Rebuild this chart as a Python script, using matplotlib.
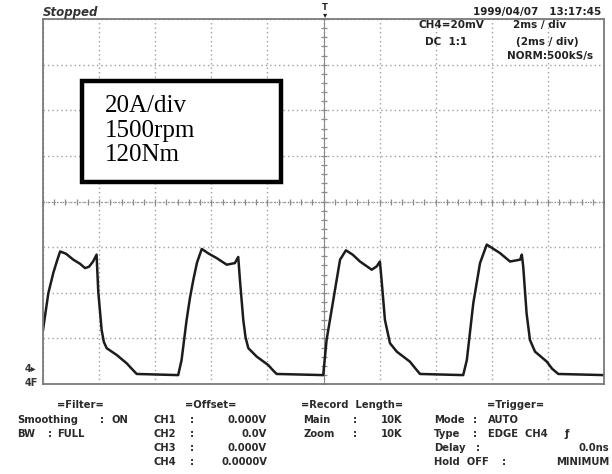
"""Phase current capture, 1500 rpm / 120 Nm."""
import numpy as np
import matplotlib
matplotlib.use('Agg')
from matplotlib import pyplot as plt
from matplotlib import transforms
from matplotlib.patches import Rectangle

# Captured trace: time (ms) and phase current (A)
time_ms = [0.00, 0.19, 0.37, 0.50, 0.61, 0.82, 1.08, 1.32, 1.50, 1.64,
           1.78, 1.91, 1.97, 2.09, 2.17, 2.27, 2.63, 2.98, 3.14, 3.34,
           4.82, 4.94, 5.03, 5.12, 5.24, 5.36, 5.49, 5.66, 5.90, 6.19,
           6.55, 6.84, 6.96, 7.02, 7.14, 7.22, 7.32, 7.62, 8.03, 8.20,
           8.33, 9.99, 10.11, 10.35, 10.59, 10.80, 11.05, 11.30, 11.72, 11.90,
           12.01, 12.07, 12.19, 12.37, 12.61, 13.08, 13.25, 13.44, 14.98, 15.11,
           15.34, 15.58, 15.82, 16.05, 16.29, 16.65, 17.01, 17.07, 17.12, 17.24,
           17.36, 17.54, 17.96, 18.15, 18.37, 20.00]
current_a = [16.7, 32.8, 41.8, 47.0, 51.1, 50.1, 47.5, 45.7, 43.8, 44.4,
             46.6, 49.7, 33.5, 16.7, 11.4, 8.7, 5.7, 2.1, 0.0, -2.6,
             -3.1, 3.5, 12.3, 21.1, 30.8, 38.7, 46.2, 52.2, 50.2, 48.2,
             45.3, 46.0, 48.7, 38.7, 21.1, 13.5, 8.7, 5.0, 1.3, -1.0,
             -2.6, -3.1, 12.3, 29.9, 47.5, 51.6, 49.6, 46.7, 43.1, 44.6,
             46.7, 38.7, 21.1, 10.9, 7.2, 2.8, 0.2, -2.6, -3.1, 3.5,
             28.4, 46.0, 54.1, 52.3, 50.4, 46.7, 47.5, 49.7, 44.5, 24.0,
             12.3, 7.2, 2.8, -0.3, -2.6, -3.1]

# Screen: 10 x 2 ms horizontally, 8 x 20 A vertically
t_range = (0.0, 20.0)
i_range = (-7.0, 153.0)

box_lines = ['20A/div', '1500rpm', '120Nm']
setup_left = ['CH4=20mV', 'DC  1:1']
setup_right = ['2ms / div', '(2ms / div)']
sample_rate = 'NORM:500kS/s'
timestamp = '1999/04/07   13:17:45'

fig = plt.figure(figsize=(6.12, 4.74), dpi=100)
ax = fig.add_axes([43 / 612, 1 - 384 / 474, 561 / 612, 365 / 474])
ax.set_xlim(*t_range)
ax.set_ylim(*i_range)

# graticule
ax.set_xticks(np.linspace(*t_range, 11))
ax.set_yticks(np.linspace(*i_range, 9))
ax.tick_params(length=0, labelbottom=False, labelleft=False)
ax.grid(True, color='#a0a0a0', linestyle=(0, (1, 2.2)), linewidth=1.0)
for s in ax.spines.values():
    s.set_color('#7a7a7a')
    s.set_linewidth(1.3)

t_mid = sum(t_range) / 2
i_mid = sum(i_range) / 2
ax.axvline(t_mid, color='#8a8a8a', lw=0.8)
ax.axhline(i_mid, color='#8a8a8a', lw=0.8, linestyle=(0, (1, 1.5)))
ax.plot(np.linspace(*t_range, 51), [i_mid] * 51, ls='none', marker='|',
        ms=4, mew=0.9, color='#8a8a8a')
ax.plot([t_mid] * 41, np.linspace(*i_range, 41), ls='none', marker='_',
        ms=4, mew=0.9, color='#8a8a8a')

# current trace
ax.plot(time_ms, current_a, color='#1c1c1c', lw=1.8, solid_joinstyle='round')

# text placed in pixel coordinates measured from the top-left corner
px = transforms.Affine2D().scale(1 / 612, -1 / 474).translate(0, 1) + fig.transFigure

fig.text(43, 12.5, 'Stopped', transform=px, fontsize=8.5, fontweight='bold',
         style='italic', va='center', color='#333333')
fig.text(601, 12.5, timestamp, transform=px, fontsize=7.5, fontweight='bold',
         ha='right', va='center', color='#222222')
fig.text(325, 11, 'T\n\u25be', transform=px, fontsize=6, fontweight='bold',
         ha='center', va='center', linespacing=0.8, color='#222222')

fig.text(484, 25, setup_left[0], transform=px, fontsize=7.5, fontweight='bold',
         ha='right', va='center', color='#222222')
fig.text(467, 42, setup_left[1], transform=px, fontsize=7.5, fontweight='bold',
         ha='right', va='center', color='#222222')
fig.text(540, 25, setup_right[0], transform=px, fontsize=7.5, fontweight='bold',
         ha='center', va='center', color='#222222')
fig.text(547, 42, setup_right[1], transform=px, fontsize=7.5, fontweight='bold',
         ha='center', va='center', color='#222222')
fig.text(593, 56, sample_rate, transform=px, fontsize=7.5, fontweight='bold',
         ha='right', va='center', color='#222222')

# operating point box
fig.patches.append(Rectangle((82, 182), 199, -101, transform=px, facecolor='white',
                             edgecolor='black', linewidth=3.2, zorder=5))
for k, line in enumerate(box_lines):
    fig.text(105, 106 + 24.5 * k, line, transform=px, fontsize=18,
             family='Liberation Serif', va='center', zorder=6)

# channel and trigger markers on the left
fig.text(25, 369, '4\u25b8', transform=px, fontsize=7, fontweight='bold',
         va='center', color='#333333')
fig.text(25, 383, '4F', transform=px, fontsize=7, fontweight='bold',
         va='center', color='#333333')

# settings panel under the screen
rows = [405, 420, 434, 448, 462]
small = dict(transform=px, fontsize=7.2, fontweight='bold', va='center',
             color='#2a2a2a')

fig.text(80, rows[0], '=Filter=', ha='center', **small)
fig.text(17, rows[1], 'Smoothing', **small)
fig.text(102, rows[1], ':', ha='center', **small)
fig.text(112, rows[1], 'ON', **small)
fig.text(17, rows[2], 'BW', **small)
fig.text(50, rows[2], ':', ha='center', **small)
fig.text(57, rows[2], 'FULL', **small)

offsets = ['0.000V', '0.0V', '0.000V', '0.0000V']
fig.text(211, rows[0], '=Offset=', ha='center', **small)
for k, val in enumerate(offsets):
    fig.text(154, rows[k + 1], f'CH{k + 1}', **small)
    fig.text(192, rows[k + 1], ':', ha='center', **small)
    fig.text(267, rows[k + 1], val, ha='right', **small)

fig.text(352, rows[0], '=Record  Length=', ha='center', **small)
for k, (name, val) in enumerate([('Main', '10K'), ('Zoom', '10K')]):
    fig.text(303, rows[k + 1], name, **small)
    fig.text(355, rows[k + 1], ':', ha='center', **small)
    fig.text(402, rows[k + 1], val, ha='right', **small)

fig.text(516, rows[0], '=Trigger=', ha='center', **small)
fig.text(434, rows[1], 'Mode', **small)
fig.text(475, rows[1], ':', ha='center', **small)
fig.text(488, rows[1], 'AUTO', **small)
fig.text(434, rows[2], 'Type', **small)
fig.text(475, rows[2], ':', ha='center', **small)
fig.text(488, rows[2], 'EDGE  CH4', **small)
fig.text(567, rows[2], '\u0192', ha='center', **small)
fig.text(434, rows[3], 'Delay', **small)
fig.text(478, rows[3], ':', ha='center', **small)
fig.text(609, rows[3], '0.0ns', ha='right', **small)
fig.text(434, rows[4], 'Hold  OFF', **small)
fig.text(504, rows[4], ':', ha='center', **small)
fig.text(609, rows[4], 'MINIMUM', ha='right', **small)

fig.savefig('out.png', dpi=100)
